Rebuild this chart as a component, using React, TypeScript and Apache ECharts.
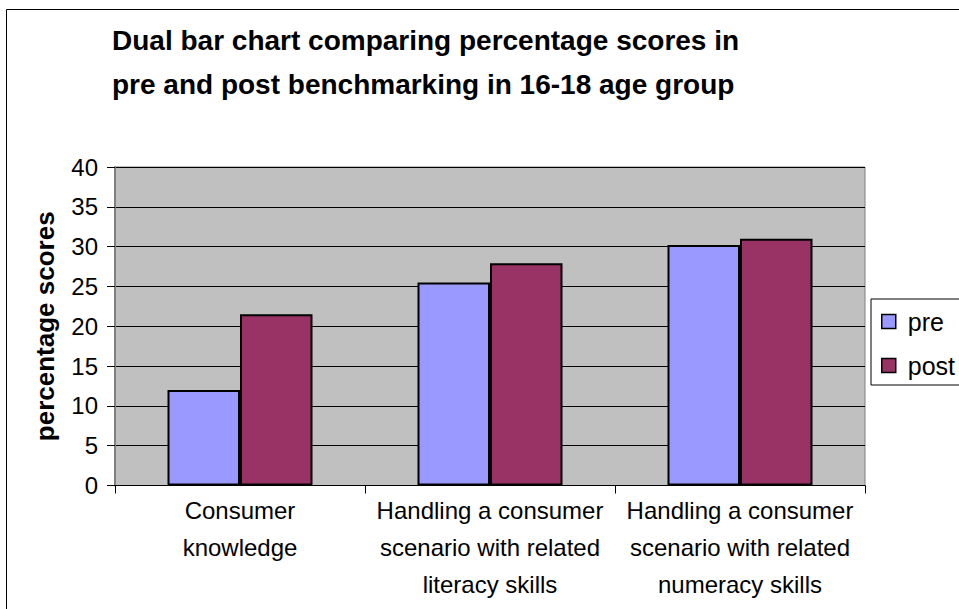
import React, { useEffect, useRef } from "react";
import * as echarts from "echarts";

const categories = [
  "Consumer\nknowledge",
  "Handling a consumer\nscenario with related\nliteracy skills",
  "Handling a consumer\nscenario with related\nnumeracy skills",
];
const preValues = [12, 25.5, 30.2];
const postValues = [21.5, 27.9, 31];
const yTicks = { min: 0, max: 40, interval: 5 };

const FONT = "'Liberation Sans', Arial, sans-serif";

export default function App() {
  const ref = useRef<HTMLDivElement>(null);
  useEffect(() => {
    if (!ref.current) return;
    const chart = echarts.init(ref.current, null, { renderer: "svg" });
    chart.setOption({
      animation: false,
      backgroundColor: "#ffffff",
      textStyle: { fontFamily: FONT },
      title: {
        text: "Dual bar chart comparing percentage scores in\npre and post benchmarking in 16-18 age group",
        left: 112,
        top: 18,
        padding: 0,
        textStyle: { fontSize: 28, fontWeight: "bold", color: "#000", lineHeight: 44, fontFamily: FONT },
      },
      graphic: [
        {
          type: "rect",
          left: 4,
          top: 7,
          shape: { width: 1000, height: 700 },
          style: { fill: "none", stroke: "#000", lineWidth: 1 },
          silent: true,
          z: 100,
        },
      ],
      legend: {
        orient: "vertical",
        left: 871,
        top: 299,
        data: ["pre", "post"],
        icon: "rect",
        itemWidth: 14,
        itemHeight: 14,
        itemGap: 19,
        padding: [10, 40, 7, 10],
        borderColor: "#000",
        borderWidth: 1,
        backgroundColor: "#fff",
        itemStyle: { borderColor: "#000", borderWidth: 1.5 },
        textStyle: { fontSize: 25, color: "#000", fontFamily: FONT, padding: [0, 0, 0, 7] },
      },
      grid: {
        left: 115,
        right: 94,
        top: 167,
        bottom: 123.5,
        show: true,
        backgroundColor: "#C0C0C0",
        borderColor: "#808080",
        borderWidth: 1,
      },
      xAxis: {
        type: "category",
        data: categories,
        axisLine: { show: true, lineStyle: { color: "#000" } },
        axisTick: { show: true, length: 8, lineStyle: { color: "#000" } },
        axisLabel: {
          interval: 0,
          fontSize: 24,
          lineHeight: 37,
          color: "#000",
          margin: 6,
          fontFamily: FONT,
        },
      },
      yAxis: {
        type: "value",
        min: yTicks.min,
        max: yTicks.max,
        interval: yTicks.interval,
        name: "percentage scores",
        nameLocation: "middle",
        nameGap: 57,
        nameTextStyle: { fontSize: 26, fontWeight: "bold", color: "#000", fontFamily: FONT },
        axisLine: { show: true, lineStyle: { color: "#808080", width: 2 } },
        axisTick: { show: true, length: 8, lineStyle: { color: "#000" } },
        axisLabel: { fontSize: 24, color: "#000", margin: 17, fontFamily: FONT },
        splitLine: { show: true, lineStyle: { color: "#000", width: 1 } },
      },
      series: [
        {
          name: "pre",
          type: "bar",
          data: preValues,
          barGap: "0%",
          barCategoryGap: "42%",
          itemStyle: { color: "#9999FF", borderColor: "#000", borderWidth: 2 },
        },
        {
          name: "post",
          type: "bar",
          data: postValues,
          itemStyle: { color: "#993366", borderColor: "#000", borderWidth: 2 },
        },
      ],
    });
    return () => chart.dispose();
  }, []);
  return (
    <div
      ref={ref}
      style={{ position: "absolute", left: 0, top: 0, width: 959, height: 609 }}
    />
  );
}
